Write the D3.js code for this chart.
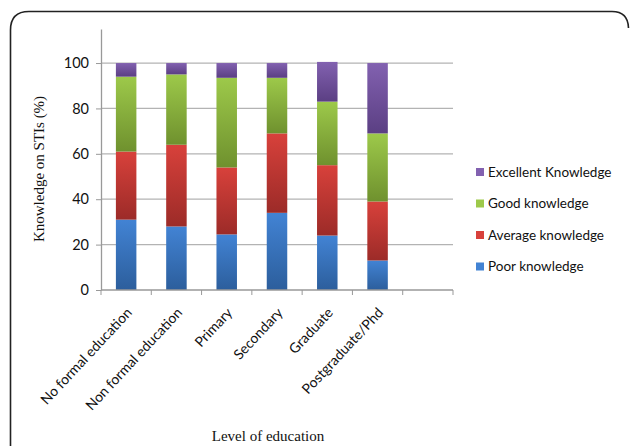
<!DOCTYPE html>
<html>
<head>
<meta charset="utf-8">
<script src="https://cdn.jsdelivr.net/npm/d3@7"></script>
<style>
  body { margin: 0; background: #fff; }
  svg { display: block; }
</style>
</head>
<body>
<div id="chart"></div>
<script>
// Knowledge on STIs by level of education (stacked %)
var categories = ['No formal education', 'Non formal education', 'Primary', 'Secondary', 'Graduate', 'Postgraduate/Phd'];
var poor      = [31, 28, 24.5, 34, 24, 13];
var average   = [30, 36, 29.5, 35, 31, 26];
var good      = [33, 31, 39.5, 24.5, 28, 30];
var excellent = [6, 5, 6.5, 6.5, 17.5, 31];
var seriesNames = ['Poor knowledge', 'Average knowledge', 'Good knowledge', 'Excellent Knowledge'];
var yTicks = [0, 20, 40, 60, 80, 100];

var width = 630, height = 446;
var plotLeft = 101, plotRight = 453, plotBottom = 290, plotTop = 29;

var colors = {
	'Poor knowledge': ['#4283d4', '#2c5e9c'],
	'Average knowledge': ['#d8413b', '#9c2b28'],
	'Good knowledge': ['#9dc94a', '#6f912e'],
	'Excellent Knowledge': ['#8261b0', '#5b3f83']
};

var rows = categories.map(function(c, i){
	return {
		cat: c,
		'Poor knowledge': poor[i],
		'Average knowledge': average[i],
		'Good knowledge': good[i],
		'Excellent Knowledge': excellent[i]
	};
});

var svg = d3.select('#chart').append('svg')
	.attr('width', width)
	.attr('height', height);

var defs = svg.append('defs');
seriesNames.forEach(function(s, i){
	var g = defs.append('linearGradient')
		.attr('id', 'grad' + i)
		.attr('x1', 0).attr('y1', 0).attr('x2', 0).attr('y2', 1);
	g.append('stop').attr('offset', '0%').attr('stop-color', colors[s][0]);
	g.append('stop').attr('offset', '100%').attr('stop-color', colors[s][1]);
});

// rounded frame
svg.append('path')
	.attr('d', 'M10.5,' + (height + 5) + ' L10.5,30 Q10.5,11.5 29,11.5 L612,11.5 Q628,11.5 628.5,28')
	.attr('fill', 'none')
	.attr('stroke', '#222')
	.attr('stroke-width', 1.6);

// 7 slots: six categories plus an empty one
var x = d3.scaleBand()
	.domain(categories.concat(['_empty']))
	.range([plotLeft, plotRight])
	.paddingInner(0)
	.paddingOuter(0);

var y = d3.scaleLinear()
	.domain([0, 115])
	.range([plotBottom, plotTop]);

// gridlines
svg.append('g')
	.selectAll('line')
	.data(yTicks.slice(1))
	.join('line')
	.attr('x1', plotLeft).attr('x2', plotRight)
	.attr('y1', function(d){ return y(d); })
	.attr('y2', function(d){ return y(d); })
	.attr('stroke', '#b3b3b3')
	.attr('stroke-width', 1.3);

// y axis
var yAxis = svg.append('g')
	.attr('transform', 'translate(' + plotLeft + ',0)')
	.call(d3.axisLeft(y).tickValues(yTicks).tickSize(5).tickPadding(7).tickSizeOuter(0));
yAxis.select('.domain').attr('stroke', '#999').attr('stroke-width', 1.3);
yAxis.selectAll('.tick line').attr('stroke', '#999');
yAxis.selectAll('text')
	.attr('font-family', 'Lato, "Open Sans", sans-serif')
	.attr('font-size', 14.5)
	.attr('fill', '#111');

// stacked bars
var stack = d3.stack().keys(seriesNames);
var layers = stack(rows);
var barW = 20.5;

svg.append('g')
	.selectAll('g')
	.data(layers)
	.join('g')
	.attr('fill', function(d, i){ return 'url(#grad' + i + ')'; })
	.selectAll('rect')
	.data(function(d){ return d; })
	.join('rect')
	.attr('x', function(d){ return x(d.data.cat) + x.bandwidth() / 2 - barW / 2; })
	.attr('width', barW)
	.attr('y', function(d){ return y(d[1]); })
	.attr('height', function(d){ return y(d[0]) - y(d[1]); });

// x axis
var xAxis = svg.append('g')
	.attr('transform', 'translate(0,' + plotBottom + ')');
xAxis.append('line')
	.attr('x1', plotLeft).attr('x2', plotRight)
	.attr('stroke', '#999').attr('stroke-width', 1.3);
xAxis.selectAll('line.tk')
	.data(x.domain().concat(['_end']))
	.join('line')
	.attr('class', 'tk')
	.attr('x1', function(d){ return d === '_end' ? plotRight : x(d); })
	.attr('x2', function(d){ return d === '_end' ? plotRight : x(d); })
	.attr('y1', 0).attr('y2', 5)
	.attr('stroke', '#999');
xAxis.selectAll('text')
	.data(categories)
	.join('text')
	.attr('transform', function(d){
		return 'translate(' + (x(d) + x.bandwidth() / 2 + 3) + ',20) rotate(-47)';
	})
	.attr('text-anchor', 'end')
	.attr('dy', '0.35em')
	.attr('font-family', 'Lato, "Open Sans", sans-serif')
	.attr('font-size', 14)
	.attr('fill', '#111')
	.text(function(d){ return d; });

// axis titles
svg.append('text')
	.attr('transform', 'translate(44,169) rotate(-90)')
	.attr('text-anchor', 'middle')
	.attr('font-family', '"Liberation Serif", serif')
	.attr('font-size', 15)
	.attr('fill', '#111')
	.text('Knowledge on STIs (%)');

svg.append('text')
	.attr('x', 268)
	.attr('y', 441)
	.attr('text-anchor', 'middle')
	.attr('font-family', '"Liberation Serif", serif')
	.attr('font-size', 15)
	.attr('fill', '#111')
	.text('Level of education');

// legend
var legendNames = seriesNames.slice().reverse();
var legend = svg.append('g')
	.selectAll('g')
	.data(legendNames)
	.join('g')
	.attr('transform', function(d, i){ return 'translate(476,' + (172 + i * 31.5) + ')'; });
legend.append('rect')
	.attr('x', 0).attr('y', -4)
	.attr('width', 8).attr('height', 8)
	.attr('fill', function(d){ return colors[d][0]; });
legend.append('text')
	.attr('x', 12)
	.attr('dy', '0.35em')
	.attr('font-family', 'Lato, "Open Sans", sans-serif')
	.attr('font-size', 13.5)
	.attr('fill', '#111')
	.text(function(d){ return d; });
</script>
</body>
</html>
